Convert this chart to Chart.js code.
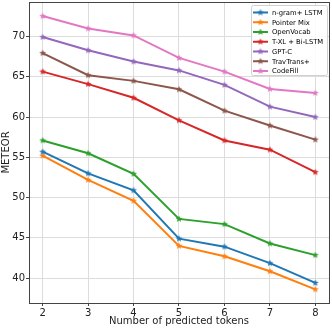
<!DOCTYPE html>
<html>
<head>
<meta charset="utf-8">
<script src="https://cdn.jsdelivr.net/npm/chart.js@4.4.1/dist/chart.umd.min.js"></script>
<style>
  html, body { margin: 0; padding: 0; background: #fff; }
  #wrap { width: 332px; height: 329px; }
</style>
</head>
<body>
<div id="wrap"><canvas id="chart" width="332" height="329"></canvas></div>
<script>
const tokens = [2, 3, 4, 5, 6, 7, 8];
const seriesNames = ['n-gram+ LSTM', 'Pointer Mix', 'OpenVocab', 'T-XL + Bi-LSTM', 'GPT-C', 'TravTrans+', 'CodeFill'];
const ngramLstm = [55.7, 53.0, 50.9, 44.9, 43.9, 41.85, 39.4];
const pointerMix = [55.2, 52.2, 49.6, 44.0, 42.7, 40.85, 38.6];
const openVocab = [57.1, 55.5, 52.95, 47.35, 46.7, 44.3, 42.85];
const txlBiLstm = [65.65, 64.1, 62.4, 59.6, 57.1, 55.95, 53.15];
const gptC = [69.95, 68.3, 66.9, 65.8, 64.0, 61.3, 60.0];
const travTrans = [67.95, 65.2, 64.5, 63.45, 60.8, 58.95, 57.2];
const codeFill = [72.55, 71.0, 70.15, 67.35, 65.65, 63.5, 63.0];
const yTicks = [40, 45, 50, 55, 60, 65, 70];

const seriesValues = [ngramLstm, pointerMix, openVocab, txlBiLstm, gptC, travTrans, codeFill];
const colors = ['#1f77b4', '#ff7f0e', '#2ca02c', '#d62728', '#9467bd', '#8c564b', '#e377c2'];

// filled five-point star, like matplotlib's '*' marker
function starImage(color, r) {
    const c = document.createElement('canvas');
    const s = Math.ceil(r * 2 + 2);
    c.width = s; c.height = s;
    const ctx = c.getContext('2d');
    ctx.translate(s / 2, s / 2);
    ctx.beginPath();
    for (let i = 0; i < 10; i++) {
        const rad = i % 2 === 0 ? r : r * 0.42;
        const a = -Math.PI / 2 + i * Math.PI / 5;
        ctx[i ? 'lineTo' : 'moveTo'](rad * Math.cos(a), rad * Math.sin(a));
    }
    ctx.closePath();
    ctx.fillStyle = color;
    ctx.fill();
    return c;
}

const font = "'DejaVu Sans', sans-serif";

const legendInside = {
    id: 'legendInside',
    afterDraw(chart) {
        const ctx = chart.ctx;
        const x0 = 251, y0 = 5, w = 76, h = 70;
        ctx.save();
        ctx.fillStyle = 'rgba(255,255,255,0.85)';
        ctx.strokeStyle = '#d0d0d0';
        ctx.lineWidth = 1;
        ctx.beginPath();
        ctx.roundRect(x0 + 0.5, y0 + 0.5, w, h, 2);
        ctx.fill();
        ctx.stroke();
        ctx.font = '6.8px ' + font;
        ctx.textBaseline = 'middle';
        chart.data.datasets.forEach((ds, i) => {
            const y = y0 + 7.5 + i * 9.75;
            ctx.strokeStyle = ds.borderColor;
            ctx.lineWidth = 2;
            ctx.beginPath();
            ctx.moveTo(253, y);
            ctx.lineTo(268, y);
            ctx.stroke();
            const img = ds.pointStyle;
            ctx.drawImage(img, 260.5 - img.width / 2, y - img.height / 2);
            ctx.fillStyle = '#000';
            ctx.fillText(ds.label, 272, y + 0.5);
        });
        ctx.restore();
    }
};

const frame = {
    id: 'frame',
    afterDatasetsDraw(chart) {
        const a = chart.chartArea;
        const ctx = chart.ctx;
        ctx.save();
        ctx.strokeStyle = '#444';
        ctx.lineWidth = 1;
        ctx.strokeRect(Math.round(a.left) + 0.5, Math.round(a.top) + 0.5, Math.round(a.right - a.left), Math.round(a.bottom - a.top));
        ctx.restore();
    }
};

new Chart(document.getElementById('chart'), {
    type: 'line',
    data: {
        datasets: seriesNames.map((name, i) => ({
            label: name,
            data: tokens.map((t, j) => ({ x: t, y: seriesValues[i][j] })),
            borderColor: colors[i],
            backgroundColor: colors[i],
            borderWidth: 2,
            pointStyle: starImage(colors[i], 3.6),
            pointRadius: 3.5,
            tension: 0,
            fill: false
        }))
    },
    options: {
        responsive: false,
        animation: false,
        layout: { autoPadding: false, padding: { top: 2, right: 3, left: 0, bottom: 0 } },
        plugins: { legend: { display: false }, tooltip: { enabled: false } },
        scales: {
            x: {
                type: 'linear',
                min: 1.7, max: 8.3,
                afterBuildTicks: s => { s.ticks = tokens.map(v => ({ value: v })); },
                grid: { color: '#dcdcdc', lineWidth: 1, drawTicks: true, tickLength: 3, tickColor: '#444' },
                border: { display: false },
                ticks: { color: '#222', font: { family: font, size: 10 }, padding: 1, maxRotation: 0 },
                title: { display: true, text: 'Number of predicted tokens', color: '#222', font: { family: font, size: 10 }, padding: { top: 0, bottom: 2 } },
                afterFit: s => { s.height = 26; s.paddingLeft = 0; s.paddingRight = 0; }
            },
            y: {
                min: 36.9, max: 74.3,
                afterBuildTicks: s => { s.ticks = yTicks.map(v => ({ value: v })); },
                grid: { color: '#dcdcdc', lineWidth: 1, drawTicks: true, tickLength: 3, tickColor: '#444' },
                border: { display: false },
                ticks: { color: '#222', font: { family: font, size: 10 }, padding: 1 },
                title: { display: true, text: 'METEOR', color: '#222', font: { family: font, size: 10 }, padding: { top: 0, bottom: 1 } },
                afterFit: s => { s.width = 29; s.paddingTop = 0; s.paddingBottom = 0; }
            }
        }
    },
    plugins: [frame, legendInside]
});
</script>
</body>
</html>
